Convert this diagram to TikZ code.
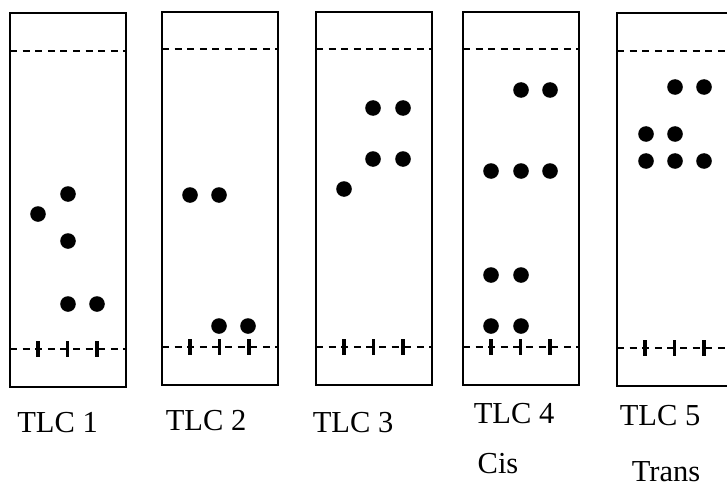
\documentclass[tikz,border=0pt]{standalone}
\usepackage{fontspec}
\setmainfont{Liberation Serif}
\begin{document}
\begin{tikzpicture}[x=1pt,y=-1pt,
  plate/.style={line width=2.8pt},
  front/.style={line width=2.8pt, dash pattern=on 7pt off 5.6pt},
  tick/.style={line width=3.4pt},
  spot/.style={fill=black},
  lbl/.style={anchor=base, inner sep=0pt, text depth=0pt, font=\fontsize{30.5}{36}\selectfont}]
\useasboundingbox (0,0) rectangle (727,487);
\clip (0,0) rectangle (727,487);
\newcommand{\tlcplate}[5]{% left, top, bottom, topdash, basedash
  \draw[plate] (#1,#3) rectangle (#1+116,#2);
  \draw[front] (#1,#4) -- (#1+116,#4);
  \draw[front] (#1,#5) -- (#1+116,#5);
  \foreach \t in {28,57.5,87} \draw[tick] (#1+\t,#5-8) -- (#1+\t,#5+8);
}
\tlcplate{10}{13}{387}{51}{349}
\tlcplate{162}{12}{385}{49}{347}
\tlcplate{316}{12}{385}{49}{347}
\tlcplate{463}{12}{385}{49}{347}
\tlcplate{617}{13}{386}{51}{348}
% spots
\foreach \p in {(38,214),(68,194),(68,241),(68,304),(97,304)} \fill[spot] \p circle (7.8);
\foreach \p in {(190,195),(219,195),(219,326),(248,326)} \fill[spot] \p circle (7.8);
\foreach \p in {(344,189),(373,108),(403,108),(373,159),(403,159)} \fill[spot] \p circle (7.8);
\foreach \p in {(521,90),(550,90),(491,171),(521,171),(550,171),(491,275),(521,275),(491,326),(521,326)} \fill[spot] \p circle (7.8);
\foreach \p in {(675,87),(704,87),(646,134),(675,134),(646,161),(675,161),(704,161)} \fill[spot] \p circle (7.8);
% labels
\node[lbl] (l1) at (57.5,432) {TLC 1};
\node[lbl] (l2) at (206,430) {TLC 2};
\node[lbl] (l3) at (353,432) {TLC 3};
\node[lbl] (l4) at (514,423) {TLC 4};
\node[lbl] (l5) at (660,425) {TLC 5};
\node[lbl] (c4) at (498,473) {Cis};
\node[lbl] (t5) at (666,481) {Trans};
\end{tikzpicture}
\end{document}
